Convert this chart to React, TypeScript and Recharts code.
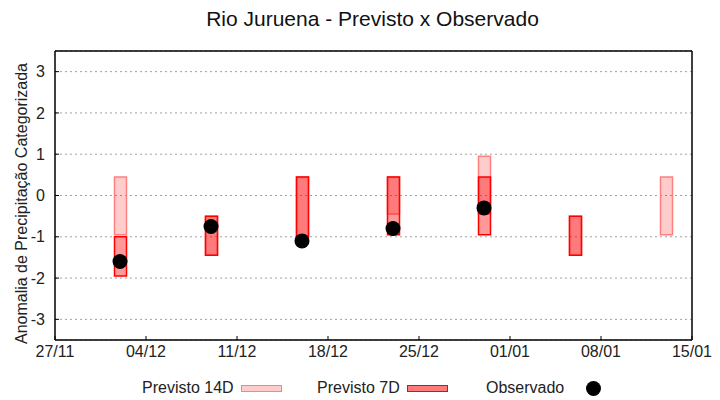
import React from 'react';
import { ComposedChart, Bar, Scatter, XAxis, YAxis, CartesianGrid, Legend } from 'recharts';

const tickDays = [0, 7, 14, 21, 28, 35, 42, 49];
const tickLabels = ['27/11', '04/12', '11/12', '18/12', '25/12', '01/01', '08/01', '15/01'];
const yTicks = [-3, -2, -1, 0, 1, 2, 3];

const forecastDays = [5, 12, 19, 26, 33, 40, 47];
const prev14Low = [-0.95, -1.45, -1.0, -0.45, -0.45, -1.45, -0.95];
const prev14High = [0.45, -0.5, 0.45, 0.45, 0.95, -0.5, 0.45];
const prev7Low: (number | null)[] = [-1.95, -1.45, -1.0, -0.95, -0.95, -1.45, null];
const prev7High: (number | null)[] = [-1.0, -0.5, 0.45, 0.45, 0.45, -0.5, null];

const obsDays = [5, 12, 19, 26, 33];
const obsValues = [-1.6, -0.75, -1.1, -0.8, -0.3];

const barData = forecastDays.map((d, i) => ({
  day: d,
  p14: [prev14Low[i], prev14High[i]],
  p7: prev7Low[i] == null ? null : [prev7Low[i], prev7High[i]],
}));
const obsData = obsDays.map((d, i) => ({ day: d, obs: obsValues[i] }));

const FONT = '"Liberation Sans", Arial, sans-serif';

const LegendContent = () => (
  <div style={{ position: 'relative', width: 720, height: 30, fontFamily: FONT, fontSize: 16, color: '#222' }}>
    <span style={{ position: 'absolute', left: 142, top: 9, lineHeight: '18px', whiteSpace: 'nowrap' }}>Previsto 14D</span>
    <div style={{ position: 'absolute', left: 241, top: 15, width: 39, height: 5, background: '#ffcccc', border: '1px solid #ff8080' }} />
    <span style={{ position: 'absolute', left: 317, top: 9, lineHeight: '18px', whiteSpace: 'nowrap' }}>Previsto 7D</span>
    <div style={{ position: 'absolute', left: 407, top: 15, width: 39, height: 5, background: '#ff7a7a', border: '1px solid #ff0000' }} />
    <span style={{ position: 'absolute', left: 486, top: 9, lineHeight: '18px', whiteSpace: 'nowrap' }}>Observado</span>
    <div style={{ position: 'absolute', left: 586, top: 11, width: 15, height: 15, borderRadius: '50%', background: '#000' }} />
  </div>
);

export default function App() {
  return (
    <div style={{ position: 'absolute', left: 0, top: 0, width: 720, height: 400, background: '#fff' }}>
      <div
        style={{
          position: 'absolute',
          left: 0,
          top: 7,
          width: 745,
          textAlign: 'center',
          fontFamily: FONT,
          fontSize: 21,
          color: '#111',
          lineHeight: '24px',
        }}
      >
        Rio Juruena - Previsto x Observado
      </div>
      <ComposedChart
        width={720}
        height={400}
        data={barData}
        margin={{ top: 50, right: 27, bottom: 0, left: 0 }}
        style={{ position: 'absolute', left: 0, top: 0 }}
      >
        <CartesianGrid vertical={false} stroke="#a0a0a0" strokeDasharray="2 3" yAxisId="left" xAxisId="main" />
        <XAxis
          xAxisId="main"
          dataKey="day"
          type="number"
          domain={[0, 49]}
          ticks={tickDays}
          allowDataOverflow
          tickFormatter={(v: number) => tickLabels[tickDays.indexOf(v)] ?? ''}
          height={30}
          tickSize={-4}
          tickMargin={10}
          stroke="#000"
          tick={{ fill: '#222', fontSize: 16, fontFamily: FONT }}
          axisLine={{ stroke: '#000', strokeWidth: 1.5 }}
          tickLine={{ stroke: '#000' }}
        />
        <XAxis
          xAxisId="top"
          dataKey="day"
          type="number"
          orientation="top"
          domain={[0, 49]}
          ticks={tickDays}
          allowDataOverflow
          height={1}
          tickSize={-4}
          tickMargin={0}
          tick={false}
          stroke="#000"
          axisLine={{ stroke: '#000', strokeWidth: 1.5 }}
          tickLine={{ stroke: '#000' }}
        />
        <YAxis
          yAxisId="left"
          type="number"
          domain={[-3.5, 3.5]}
          ticks={yTicks}
          allowDataOverflow
          width={55}
          tickSize={-4}
          tickMargin={14}
          tick={{ fill: '#222', fontSize: 16, fontFamily: FONT }}
          axisLine={{ stroke: '#000', strokeWidth: 1.5 }}
          tickLine={{ stroke: '#000' }}
          label={{
            value: 'Anomalia de Precipitação Categorizada',
            angle: -90,
            position: 'insideLeft',
            offset: 21,
            dy: 8,
            style: { textAnchor: 'middle', fill: '#222', fontSize: 16, fontFamily: FONT },
          }}
        />
        <YAxis
          yAxisId="right"
          orientation="right"
          type="number"
          domain={[-3.5, 3.5]}
          ticks={yTicks}
          allowDataOverflow
          width={1}
          tickSize={-4}
          tickMargin={0}
          tick={false}
          stroke="#000"
          axisLine={{ stroke: '#000', strokeWidth: 1.5 }}
          tickLine={{ stroke: '#000' }}
        />
        <Bar
          xAxisId="main"
          yAxisId="left"
          dataKey="p14"
          barSize={12}
          fill="#ff0000"
          fillOpacity={0.2}
          stroke="#ff8080"
          strokeWidth={1.5}
          isAnimationActive={false}
        />
        <Bar
          xAxisId="top"
          yAxisId="left"
          dataKey="p7"
          barSize={12}
          fill="#ff0000"
          fillOpacity={0.4}
          stroke="#ff0000"
          strokeWidth={1.5}
          isAnimationActive={false}
        />
        <Scatter
          xAxisId="main"
          yAxisId="left"
          data={obsData}
          dataKey="obs"
          fill="#000"
          isAnimationActive={false}
          shape={(p: any) => <circle cx={p.cx} cy={p.cy} r={7.5} fill="#000" />}
        />
        <Legend
          verticalAlign="bottom"
          height={30}
          content={() => <LegendContent />}
          wrapperStyle={{ left: 0, top: 370, width: 720, height: 30 }}
        />
      </ComposedChart>
    </div>
  );
}
